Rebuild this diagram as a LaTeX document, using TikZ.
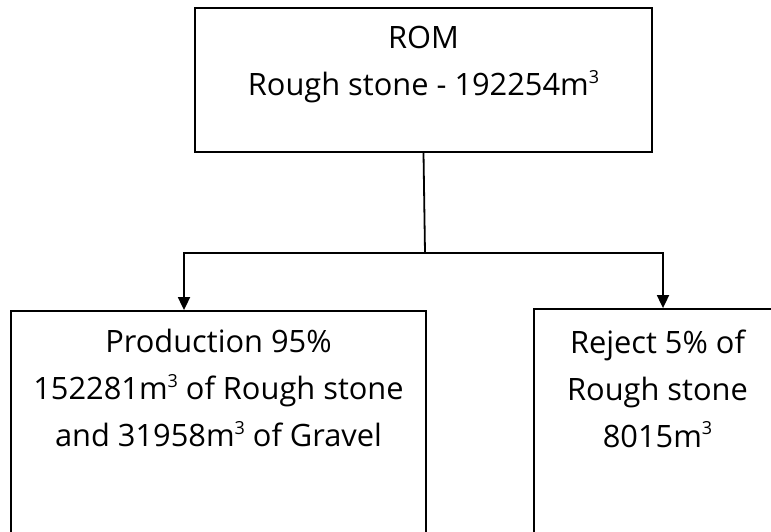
\documentclass[tikz,border=0pt]{standalone}
\usepackage{fontspec}
\setmainfont{Open Sans}
\usetikzlibrary{positioning,arrows.meta}
\newcommand{\mcube}{m\raisebox{0.40em}{\fontsize{9}{9}\selectfont 3}}

\begin{document}
\begin{tikzpicture}[x=1pt,y=1pt,
    box/.style={draw, line width=0.9pt, rectangle, inner sep=0pt},
    txt/.style={align=center, inner sep=0pt, font=\fontsize{15.4}{23.5}\selectfont},
    flow/.style={line width=0.9pt, -{Triangle[length=6.5pt,width=6pt]}}]
    \useasboundingbox (0,0) rectangle (385.5,265.5);
    \clip (0,0) rectangle (385.5,265.5);

    % Boxes
    \node[box, minimum width=228.5pt, minimum height=72pt] (rom) at (211.75,225.5) {};
    \node[box, minimum width=207.5pt, minimum height=140pt] (prod) at (109.25,40) {};
    \node[box, minimum width=200pt, minimum height=140pt] (reject) at (367,41) {};

    % Box texts
    \node[txt, below=9.5pt of rom.north] (romtext)
        {ROM\\Rough stone - 192254\mcube};
    \node[txt, below=9.5pt of prod.north] (prodtext)
        {Production 95\%\\152281\mcube{} of Rough stone\\and 31958\mcube{} of Gravel};
    \node[xshift=-38.25pt, txt, below=10.5pt of reject.north] (rejecttext)
        {Reject 5\% of\\Rough stone\\8015\mcube};

    % Connectors
    \coordinate (split) at (212.5,139.2);
    \draw[line width=0.9pt] (rom.south) -- (split);
    \draw[flow] (split) -| ([xshift=-17.25pt]prod.north);
    \draw[flow] (split) -| ([xshift=-35.5pt]reject.north);
\end{tikzpicture}
\end{document}
